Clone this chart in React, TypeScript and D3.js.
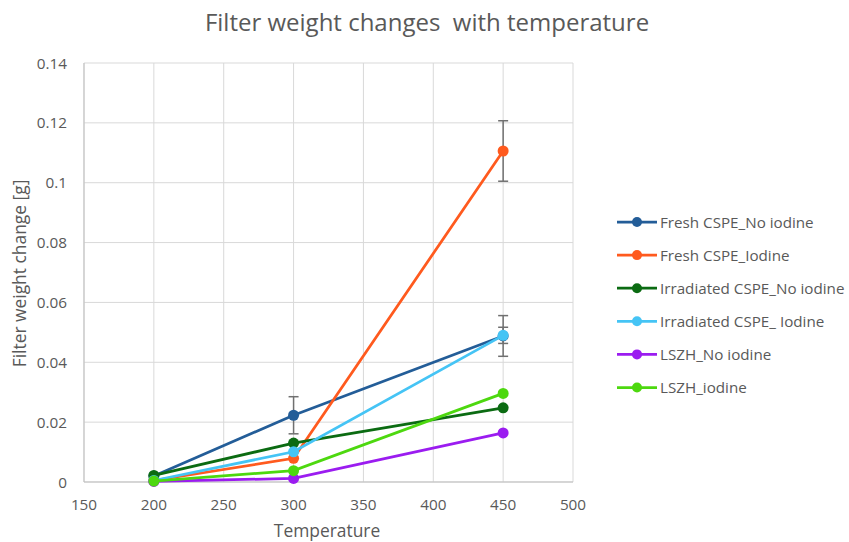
import React from "react";
import * as d3 from "d3";

const temperatures = [200, 300, 450];
const seriesNames = [
  "Fresh CSPE_No iodine",
  "Fresh CSPE_Iodine",
  "Irradiated CSPE_No iodine",
  "Irradiated CSPE_ Iodine",
  "LSZH_No iodine",
  "LSZH_iodine",
];
const seriesColors = ["#235d98", "#ff5a1e", "#0b6b12", "#45c4f5", "#9b1cf0", "#4dd80f"];
const freshNoIodine = [0.0020, 0.0223, 0.0488];
const freshIodine = [0.0005, 0.0079, 0.1106];
const irradiatedNoIodine = [0.0022, 0.0130, 0.0248];
const irradiatedIodine = [0.0005, 0.0101, 0.0490];
const lszhNoIodine = [0.0002, 0.0012, 0.0164];
const lszhIodine = [0.0003, 0.0038, 0.0296];
const seriesValues = [freshNoIodine, freshIodine, irradiatedNoIodine, irradiatedIodine, lszhNoIodine, lszhIodine];
// Error bar half-widths per series (null = none drawn)
const freshNoIodineErr = [null, 0.0062, 0.0068];
const freshIodineErr = [null, null, 0.0101];
const irradiatedIodineErr = [null, null, 0.0027];
const seriesErrors: (number | null)[][] = [
  freshNoIodineErr,
  freshIodineErr,
  [null, null, null],
  irradiatedIodineErr,
  [null, null, null],
  [null, null, null],
];
const xTicks = [150, 200, 250, 300, 350, 400, 450, 500];
const yTicks = [0, 0.02, 0.04, 0.06, 0.08, 0.1, 0.12, 0.14];

const W = 849;
const H = 542;
const font = "'Open Sans', 'Noto Sans', sans-serif";
const textColor = "#595959";

export default function App() {
  const x = d3.scaleLinear().domain([150, 500]).range([84, 573]);
  const y = d3.scaleLinear().domain([0, 0.14]).range([482, 63]);
  const line = d3
    .line<number>()
    .x((_, i) => x(temperatures[i]))
    .y((d) => y(d));

  const legendX = 617;
  const legendY0 = 222;
  const legendStep = 33.1;

  return (
    <svg width={W} height={H} style={{ position: "absolute", left: 0, top: 0, background: "#fff" }}>
      <rect x={0} y={0} width={W} height={H} fill="#fff" />
      <text
        x={427}
        y={31}
        textAnchor="middle"
        fontFamily={font}
        fontSize={24}
        fill={textColor}
        style={{ whiteSpace: "pre" }}
      >
        {"Filter weight changes  with temperature"}
      </text>

      {/* grid */}
      {yTicks.map((t) => (
        <line key={"gy" + t} x1={x(150)} x2={x(500)} y1={y(t)} y2={y(t)} stroke="#d9d9d9" strokeWidth={1} />
      ))}
      {xTicks.map((t) => (
        <line key={"gx" + t} x1={x(t)} x2={x(t)} y1={y(0)} y2={y(0.14)} stroke="#d9d9d9" strokeWidth={1} />
      ))}
      <line x1={x(150)} x2={x(500)} y1={y(0)} y2={y(0)} stroke="#bfbfbf" strokeWidth={1} />
      <line x1={x(150)} x2={x(150)} y1={y(0)} y2={y(0.14)} stroke="#bfbfbf" strokeWidth={1} />

      {/* tick labels */}
      {yTicks.map((t) => (
        <text key={"ly" + t} x={67} y={y(t) + 5.5} textAnchor="end" fontFamily={font} fontSize={15.3} fill={textColor}>
          {d3.format("~g")(t)}
        </text>
      ))}
      {xTicks.map((t) => (
        <text key={"lx" + t} x={x(t)} y={510} textAnchor="middle" fontFamily={font} fontSize={15.3} fill={textColor}>
          {t}
        </text>
      ))}
      <text x={327} y={537} textAnchor="middle" fontFamily={font} fontSize={17.4} fill={textColor}>
        Temperature
      </text>
      <text
        transform={`translate(26, ${273.5}) rotate(-90)`}
        textAnchor="middle"
        fontFamily={font}
        fontSize={17.4}
        fill={textColor}
      >
        Filter weight change [g]
      </text>

      {/* series */}
      {seriesValues.map((vals, si) => (
        <g key={"s" + si}>
          <path d={line(vals) || ""} fill="none" stroke={seriesColors[si]} strokeWidth={2.75} />
          {vals.map((v, i) => {
            const e = seriesErrors[si][i];
            if (e == null) return null;
            const cx = x(temperatures[i]);
            return (
              <g key={"e" + i} stroke="#707070" strokeWidth={1.5}>
                <line x1={cx} x2={cx} y1={y(v - e)} y2={y(v + e)} />
                <line x1={cx - 5} x2={cx + 5} y1={y(v - e)} y2={y(v - e)} />
                <line x1={cx - 5} x2={cx + 5} y1={y(v + e)} y2={y(v + e)} />
              </g>
            );
          })}
          {vals.map((v, i) => (
            <circle key={"p" + i} cx={x(temperatures[i])} cy={y(v)} r={5.5} fill={seriesColors[si]} />
          ))}
        </g>
      ))}

      {/* legend */}
      {seriesNames.map((name, i) => {
        const ly = legendY0 + i * legendStep;
        return (
          <g key={"lg" + i}>
            <line x1={legendX} x2={legendX + 40} y1={ly} y2={ly} stroke={seriesColors[i]} strokeWidth={2.75} />
            <circle cx={legendX + 20} cy={ly} r={5} fill={seriesColors[i]} />
            <text x={legendX + 43} y={ly + 5.5} fontFamily={font} fontSize={15.2} fill={textColor}>
              {name}
            </text>
          </g>
        );
      })}
    </svg>
  );
}
